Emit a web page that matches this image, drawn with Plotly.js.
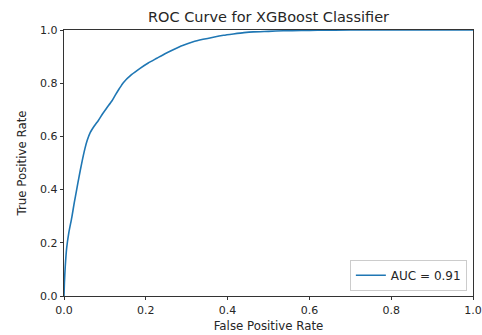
<!DOCTYPE html>
<html>
<head>
<meta charset="utf-8">
<script src="https://cdn.plot.ly/plotly-3.0.1.min.js"></script>
<style>html,body{margin:0;padding:0;background:#fff;}#chart{width:482px;height:335px;}</style>
</head>
<body>
<div id="chart"></div>
<script>
const fpr = [0, 0.001, 0.003, 0.0065, 0.012, 0.019, 0.025, 0.031, 0.037, 0.043, 0.051, 0.057, 0.064, 0.074, 0.084, 0.094, 0.104, 0.117, 0.125, 0.135, 0.145, 0.165, 0.186, 0.206, 0.227, 0.247, 0.267, 0.29, 0.316, 0.34, 0.365, 0.39, 0.414, 0.44, 0.463, 0.5, 0.536, 0.58, 0.62, 0.7, 0.8, 0.9, 1.0];
const tpr = [0, 0.05, 0.11, 0.18, 0.24, 0.295, 0.35, 0.40, 0.45, 0.497, 0.553, 0.586, 0.614, 0.639, 0.66, 0.684, 0.706, 0.733, 0.754, 0.779, 0.802, 0.832, 0.856, 0.876, 0.894, 0.911, 0.926, 0.942, 0.956, 0.965, 0.973, 0.98, 0.985, 0.99, 0.993, 0.995, 0.997, 0.998, 0.999, 1.0, 1.0, 1.0, 1.0];
const seriesName = "AUC = 0.91";
const titleText = "ROC Curve for XGBoost Classifier";
const xLabel = "False Positive Rate";
const yLabel = "True Positive Rate";

const font = "DejaVu Sans, sans-serif";
const axisCommon = {
  range: [0, 1], dtick: 0.2, tick0: 0, tickformat: ".1f",
  showgrid: false, zeroline: false,
  showline: true, mirror: true, linecolor: "#000", linewidth: 0.8,
  ticks: "outside", ticklen: 3.5, tickwidth: 0.8, tickcolor: "#000",
  tickfont: {family: font, size: 11, color: "#262626"},
  fixedrange: true
};
Plotly.newPlot("chart", [{
  x: fpr, y: tpr, type: "scatter", mode: "lines", name: seriesName,
  line: {color: "#1f77b4", width: 1.6, shape: "spline", smoothing: 0.6}
}], {
  width: 482, height: 335,
  margin: {l: 64, r: 9, t: 30, b: 39},
  paper_bgcolor: "#fff", plot_bgcolor: "#fff",
  showlegend: true,
  title: {text: titleText, font: {family: font, size: 14.5, color: "#262626"}, x: 0.5, xref: "paper", y: 1 - 17/335, yanchor: "middle"},
  xaxis: Object.assign({}, axisCommon, {title: {text: xLabel, font: {family: font, size: 11.8, color: "#262626"}, standoff: 6}}),
  yaxis: Object.assign({}, axisCommon, {title: {text: yLabel, font: {family: font, size: 11.8, color: "#262626"}, standoff: 10}}),
  legend: {x: 0.985, y: 0.02, xanchor: "right", yanchor: "bottom", bgcolor: "#fff", bordercolor: "#cccccc", borderwidth: 1, font: {family: font, size: 12, color: "#262626"}, tracegroupgap: 0}
}, {displayModeBar: false, staticPlot: true});
</script>
</body>
</html>
